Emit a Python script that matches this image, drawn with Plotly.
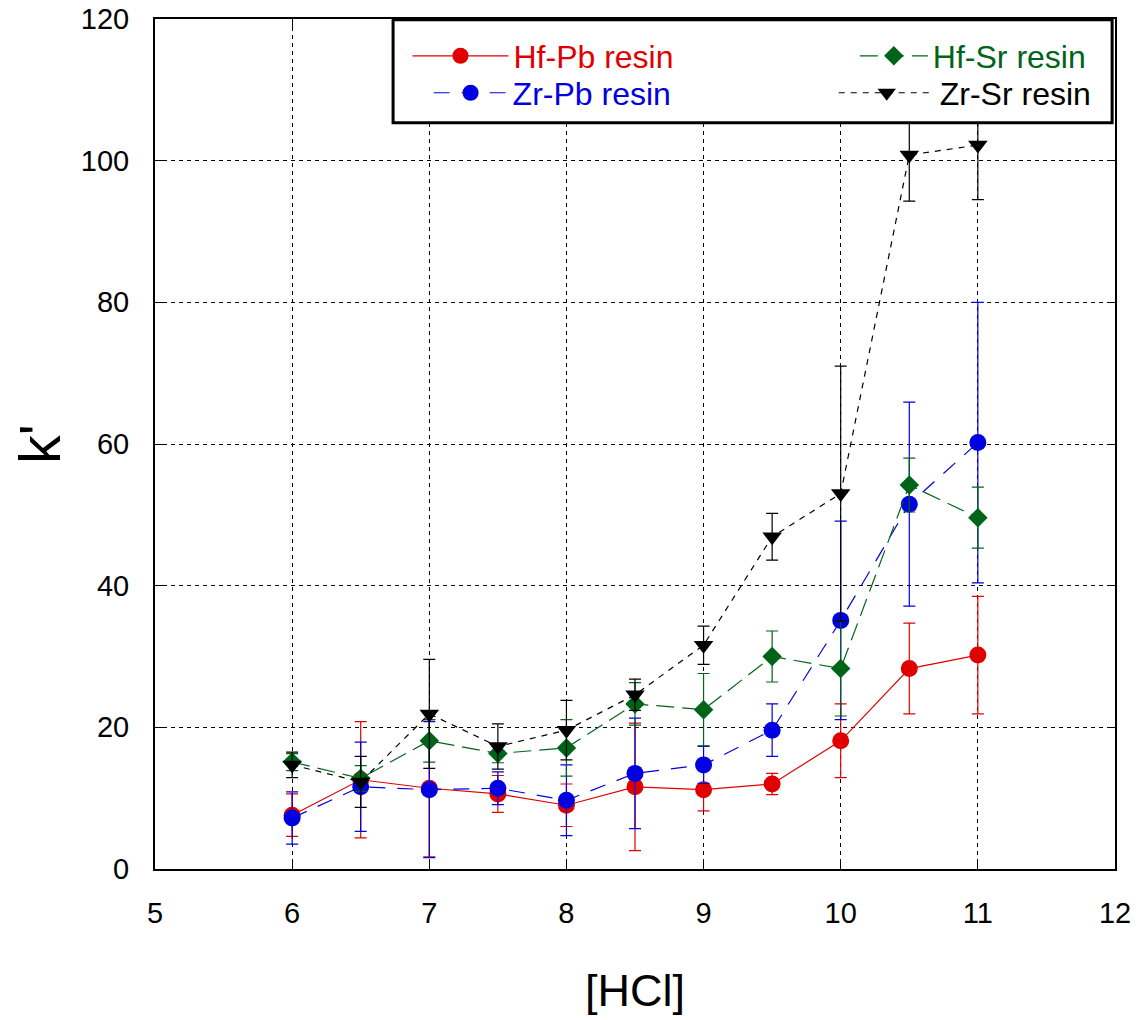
import plotly.graph_objects as go

hcl = [6, 6.5, 7, 7.5, 8, 8.5, 9, 9.5, 10, 10.5, 11]

hfpb = [7.6, 12.6, 11.4, 10.6, 9.0, 11.6, 11.2, 12.0, 18.1, 28.3, 30.2]
hfpb_err = [3.0, 8.2, 9.7, 2.6, 3.0, 9.0, 3.0, 1.5, 5.2, 6.4, 8.3]

zrpb = [7.2, 11.6, 11.2, 11.4, 9.7, 13.5, 14.7, 19.6, 35.1, 51.5, 60.2]
zrpb_err = [3.7, 6.3, 9.6, 2.3, 5.0, 7.8, 2.6, 3.7, 14.0, 14.4, 19.8]

hfsr = [15.1, 12.8, 18.1, 16.3, 17.1, 23.3, 22.5, 30.0, 28.3, 54.2, 49.6]
hfsr_err = [1.2, 1.8, 3.0, 1.3, 4.0, 3.0, 5.1, 3.6, 6.7, 3.8, 4.3]

zrsr = [14.7, 12.3, 21.9, 17.3, 19.6, 24.6, 31.6, 46.9, 53.0, 100.8, 102.2]
zrsr_err = [1.8, 3.6, 7.7, 3.2, 4.2, 2.2, 2.7, 3.3, 18.0, 6.5, 7.7]

# name, values, errors, colour, dash, symbol, size, legend id, legend x, legend y, item width
series = [
    ("Hf-Pb resin", hfpb, hfpb_err, "#e00000", "solid", "circle", 17, "legend2", 0.263, 0.9565, 96),
    ("Zr-Pb resin", zrpb, zrpb_err, "#0000e0", "16px,12px", "circle", 17, "legend3", 0.285, 0.913, 74),
    ("Hf-Sr resin", hfsr, hfsr_err, "#006418", "18px,8px", "diamond", 15, "legend4", 0.729, 0.9565, 68),
    ("Zr-Sr resin", zrsr, zrsr_err, "#000000", "6px,6px", "triangle-down", 17, "legend5", 0.707, 0.913, 96),
]

fig = go.Figure()
legends = {}
for name, ys, errs, color, dash, sym, size, leg, lx, ly, iw in series:
    fig.add_trace(go.Scatter(
        x=hcl, y=ys,
        mode="lines+markers",
        name=f'<span style="color:{color}">{name}</span>',
        line=dict(color=color, width=1.2, dash=dash),
        marker=dict(symbol=sym, size=size, color=color),
        error_y=dict(type="data", array=errs, visible=True, color=color,
                     thickness=1.2, width=6),
        legend=leg,
    ))
    legends[leg] = dict(x=lx, y=ly, xanchor="left", yanchor="middle",
                        bgcolor="rgba(0,0,0,0)", font=dict(size=32),
                        itemwidth=iw)

axis_common = dict(
    showline=True, linecolor="black", linewidth=2, mirror="ticks",
    ticks="inside", ticklen=8, tickcolor="black",
    showgrid=True, gridcolor="black", gridwidth=1, griddash="4px,4px",
    zeroline=False, automargin=False, ticklabeloverflow="allow",
    tickfont=dict(size=29, color="black", family="Liberation Sans"),
)

fig.update_layout(
    width=1130, height=1012,
    margin=dict(l=147, r=23, t=11, b=151),
    plot_bgcolor="white", paper_bgcolor="white",
    font=dict(family="Liberation Sans", color="black"),
    showlegend=True,
    xaxis=dict(range=[5, 12], dtick=1, ticklabelstandoff=17, **axis_common),
    yaxis=dict(range=[0, 120], dtick=20, ticklabelstandoff=18,
               title=dict(text="k'", font=dict(size=57), standoff=24),
               **axis_common),
    annotations=[dict(text="[HCl]", xref="paper", yref="paper",
                      x=0.5, y=-0.1425, xanchor="center", yanchor="middle",
                      showarrow=False, font=dict(size=45, color="black"))],
    shapes=[dict(type="rect", xref="paper", yref="paper",
                 x0=0.248, x1=0.997, y0=0.878, y1=0.999,
                 line=dict(color="black", width=3),
                 fillcolor="white", layer="above")],
    **legends,
)

fig.write_html("out.html")
